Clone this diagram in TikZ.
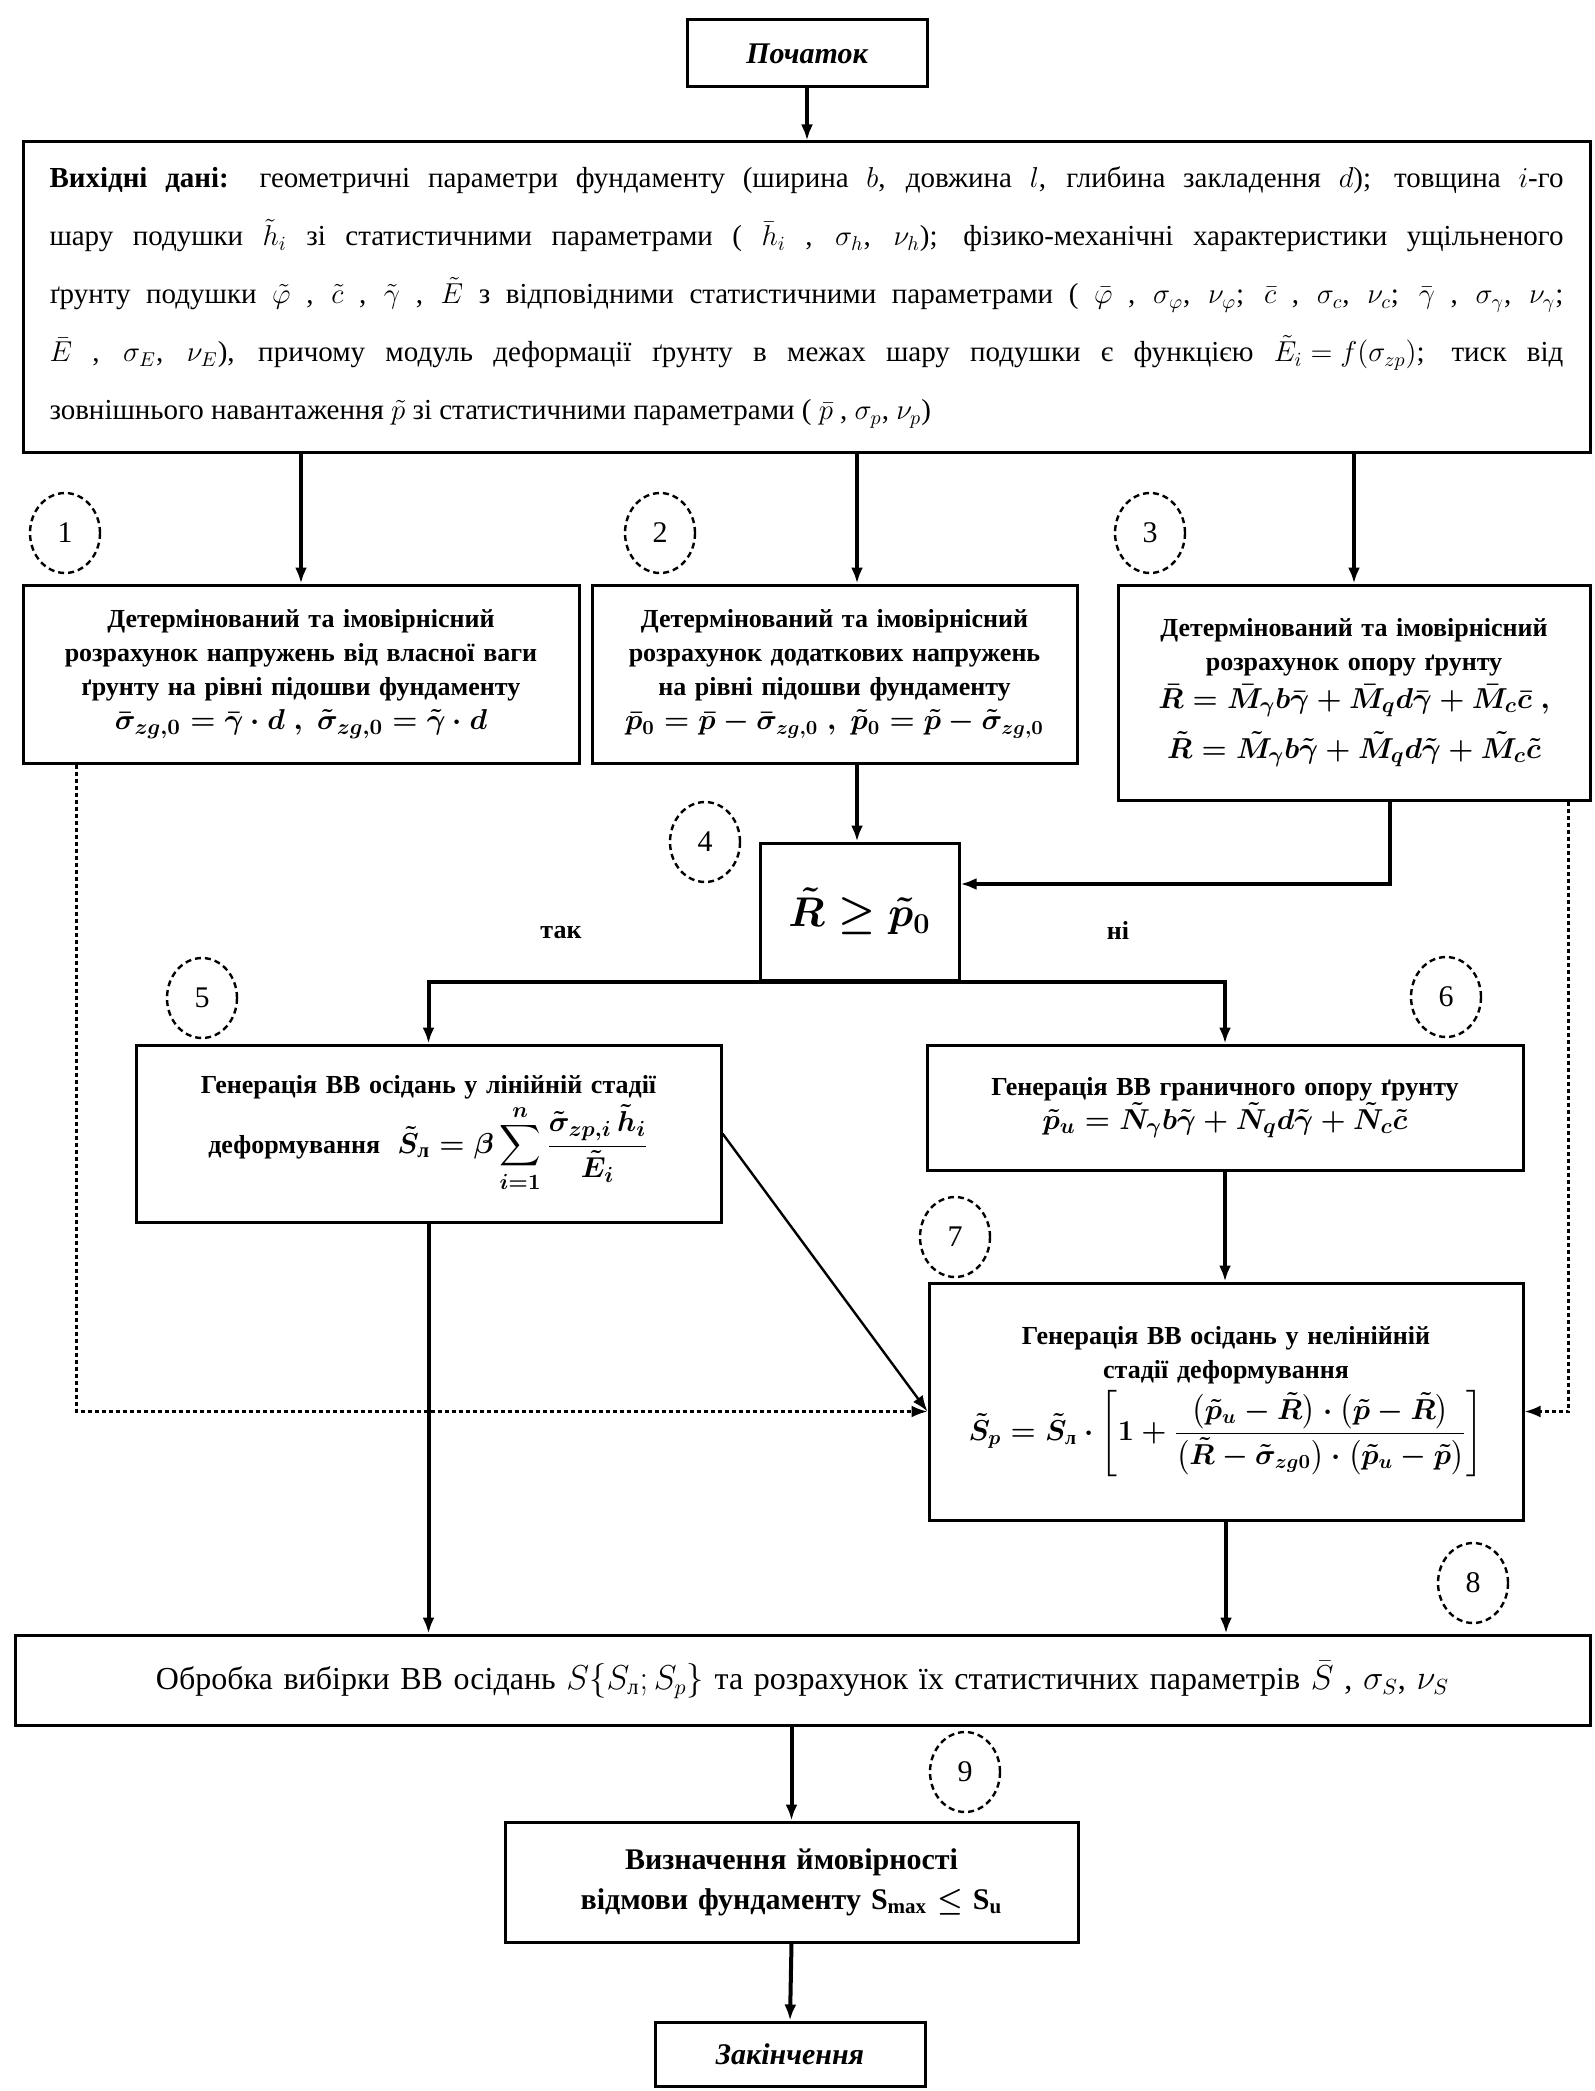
\documentclass[tikz,border=0pt]{standalone}
\usepackage{amsmath}
\usepackage{fontspec}
\setmainfont{Liberation Serif}
\usetikzlibrary{arrows.meta,shapes.geometric}
\thickmuskip=5mu
\medmuskip=4mu
\thinmuskip=3mu
\newcommand\myF{\fontsize{15}{19}\selectfont}
\newcommand\fml[1]{\mbox{\myF$#1$}}
\tikzset{
  box/.style={draw, line width=1.5pt, inner xsep=0pt, inner ysep=2pt, align=center},
  bbox/.style={box, font=\bfseries\boldmath\fontsize{13}{17}\selectfont},
  arr/.style={line width=2pt, -{Latex[length=8pt,width=6pt]}},
  dotarr/.style={line width=1.3pt, dash pattern=on 2pt off 1.5pt, -{Latex[length=8pt,width=6pt]}},
  thinarr/.style={line width=1.2pt, -{Latex[length=8pt,width=6pt]}},
  numc/.style={draw, ellipse, densely dashed, line width=1.2pt, minimum width=35pt, minimum height=40pt, inner sep=0pt, font=\fontsize{15}{15}\selectfont},
  lbl/.style={font=\bfseries\fontsize{13}{13}\selectfont}
}
\begin{document}
\begin{tikzpicture}[x=0.5pt,y=-0.5pt]
\fill[white] (0,0) rectangle (1594,2091);
\useasboundingbox (0,0) rectangle (1594,2091);

% nodes
\node[box, minimum width=120pt, minimum height=33.5pt, font=\bfseries\itshape\fontsize{15}{15}\selectfont] (start) at (807,53.5) {Початок};

\node[box, minimum width=783.5pt, minimum height=155.5pt, text width=757pt, align=justify,
      font=\fontsize{14.5}{29}\selectfont] (inp) at (806.5,297.5)
{\textbf{Вихідні дані:} геометричні параметри фундаменту (ширина $b$, довжина $l$, глибина закладення $d$); товщина $i$-го\linebreak
шару подушки $\tilde h_i$ зі статистичними параметрами ( $\bar h_i$ , $\sigma_h$, $\nu_h$); фізико-механічні характеристики ущільненого\linebreak
ґрунту подушки $\tilde\varphi$ , $\tilde c$ , $\tilde\gamma$ , $\tilde E$ з відповідними статистичними параметрами ( $\bar\varphi$ , $\sigma_\varphi$, $\nu_\varphi$; $\bar c$ , $\sigma_c$, $\nu_c$; $\bar\gamma$ , $\sigma_\gamma$, $\nu_\gamma$;\linebreak
$\bar E$ , $\sigma_E$, $\nu_E$), причому модуль деформації ґрунту в межах шару подушки є функцією \mbox{$\tilde E_i = f(\sigma_{zp})$}; тиск від\linebreak
зовнішнього навантаження $\tilde p$ зі статистичними параметрами ( $\bar p$ , $\sigma_p$, $\nu_p$)};

\node[bbox, minimum width=278pt, minimum height=89pt, text width=270pt] (b1) at (301,674)
{Детермінований та імовірнісний\\ розрахунок напружень від власної ваги\\ ґрунту на рівні підошви фундаменту\\
\fml{\bar\sigma_{zg,0}=\bar\gamma\cdot d\ ,\ \tilde\sigma_{zg,0}=\tilde\gamma\cdot d}};

\node[bbox, minimum width=242.5pt, minimum height=89pt, text width=238pt] (b2) at (834.5,674)
{Детермінований та імовірнісний\\ розрахунок додаткових напружень\\ на рівні підошви фундаменту\\
\mbox{\fontsize{14}{18}\selectfont$\bar p_0=\bar p-\bar\sigma_{zg,0}\ ,\ \tilde p_0=\tilde p-\tilde\sigma_{zg,0}$}};

\node[bbox, minimum width=236pt, minimum height=107.5pt, text width=232pt] (b3) at (1354,692.5)
{Детермінований та імовірнісний\\ розрахунок опору ґрунту\\[2pt]
\fml{\bar R=\bar M_\gamma b\bar\gamma+\bar M_q d\bar\gamma+\bar M_c\bar c\ ,}\\[6pt]
\fml{\tilde R=\tilde M_\gamma b\tilde\gamma+\tilde M_q d\tilde\gamma+\tilde M_c\tilde c}};

\node[box, minimum width=99.5pt, minimum height=68.5pt, font=\boldmath\fontsize{20}{20}\selectfont] (b4) at (859.5,911.5)
{$\tilde R \ge \tilde p_0$};

\node[bbox, minimum width=292.5pt, minimum height=88.5pt, text width=285pt] (b5) at (428.5,1133.5)
{Генерація ВВ осідань у лінійній стадії\\[2pt]
деформування\ \ \fml{\displaystyle\tilde S_{\text{л}}=\beta\sum_{i=1}^{n}\frac{\tilde\sigma_{zp,i}\,\tilde h_i}{\tilde E_i}}};

\node[bbox, minimum width=298pt, minimum height=62.5pt, text width=290pt] (b6) at (1225,1107.5)
{Генерація ВВ граничного опору ґрунту\\
\fml{\tilde p_u=\tilde N_\gamma b\tilde\gamma+\tilde N_q d\tilde\gamma+\tilde N_c\tilde c}};

\node[bbox, minimum width=297pt, minimum height=118.5pt, text width=290pt] (b7) at (1226,1401.5)
{Генерація ВВ осідань у нелінійній\\ стадії деформування\\[2pt]
\mbox{\fontsize{14}{18}\selectfont$\displaystyle\tilde S_p=\tilde S_{\text{л}}\cdot\left[1+\frac{\bigl(\tilde p_u-\tilde R\bigr)\cdot\bigl(\tilde p-\tilde R\bigr)}{\bigl(\tilde R-\tilde\sigma_{zg0}\bigr)\cdot\bigl(\tilde p_u-\tilde p\bigr)}\right]$}};

\node[box, minimum width=787.5pt, minimum height=45pt, text width=780pt, font=\fontsize{16}{20}\selectfont] (b8) at (802.5,1680)
{Обробка вибірки ВВ осідань $S\{S_{\text{л}};S_p\}$ та розрахунок їх статистичних параметрів $\bar S$ , $\sigma_S$, $\nu_S$};

\node[box, minimum width=286.5pt, minimum height=60pt, text width=280pt, font=\bfseries\fontsize{15}{20}\selectfont] (b9) at (791.5,1882)
{Визначення ймовірності\\ відмови фундаменту S\textsubscript{max} $\boldsymbol{\le}$ S\textsubscript{u}};

\node[box, minimum width=135pt, minimum height=32pt, font=\bfseries\itshape\fontsize{15}{15}\selectfont] (end) at (790,2054) {Закінчення};

% number circles
\node[numc] (c1) at (65,533) {1};
\node[numc] (c2) at (660,533) {2};
\node[numc] (c3) at (1150,533) {3};
\node[numc] (c4) at (705,842) {4};
\node[numc] (c5) at (202,998) {5};
\node[numc] (c6) at (1446,997) {6};
\node[numc] (c7) at (955,1237) {7};
\node[numc] (c8) at (1473,1583) {8};
\node[numc] (c9) at (965,1772) {9};

% labels
\node[lbl] (yes) at (561,933) {так};
\node[lbl] (no) at (1118,930) {ні};

% helper coordinates
\coordinate (a2) at ([xshift=11.25pt]b2.north);
\coordinate (a3) at ([xshift=18pt]b3.south);
\coordinate (d1) at ([xshift=27.5pt]b1.south west);
\coordinate (d3) at ([xshift=-11.5pt]b3.south east);

% connectors
\draw[arr] (start.south) -- (start.south |- inp.north);
\draw[arr] (inp.south -| b1.north) -- (b1.north);
\draw[arr] (inp.south -| a2) -- (a2);
\draw[arr] (inp.south -| b3.north) -- (b3.north);
\draw[arr] (b2.south -| a2) -- (a2 |- b4.north);
\draw[arr] (a3) |- ([yshift=13.75pt]b4.east);
\draw[arr] (b4.south) -| (b5.north);
\draw[arr] (b4.south) -| (b6.north);
\draw[arr] (b6.south) -- (b6.south |- b7.north);
\draw[thinarr] (b5.east) -- ([yshift=-5pt]b7.west);
\draw[dotarr] (d1) |- ([yshift=-5pt]b7.west);
\draw[dotarr] (d3) |- ([yshift=-5pt]b7.east);
\draw[arr] (b5.south) -- (b5.south |- b8.north);
\draw[arr] (b7.south) -- (b7.south |- b8.north);
\draw[arr] (b8.south -| b9.north) -- (b9.north);
\draw[arr] (b9.south) -- (end.north);
\end{tikzpicture}
\end{document}
